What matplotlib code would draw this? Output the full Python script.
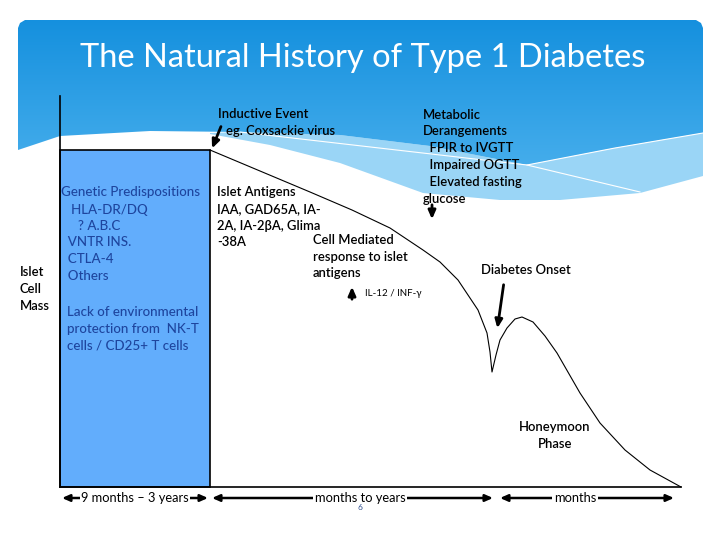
import numpy as np
import matplotlib.pyplot as plt
from matplotlib.colors import LinearSegmentedColormap
from matplotlib.patches import Polygon, Rectangle

plt.rcParams['font.family'] = ['Lato', 'DejaVu Sans']

# islet cell mass curve (pixel coords of the slide, y grows downward)
curve_x = [210, 260, 310, 352, 390, 423, 440, 458, 478, 487, 490, 492,
           496, 500, 507, 515, 522, 533, 545, 557, 580, 600, 625, 650, 681]
curve_y = [150, 171, 192, 210, 228, 250, 262, 280, 310, 333, 352, 372,
           355, 340, 328, 319, 317, 322, 336, 353, 393, 423, 450, 470, 487]

# blue block: genetic predisposition phase
block_x = [60, 210]
block_top = 150
base_y = 487

# header wave shapes
dark_x = [703, 615, 527, 430, 340, 240, 150, 60, 18]
dark_y = [133, 148, 165, 146, 135, 132, 131, 136, 150]
band_lo_x = [210, 270, 340, 423, 500, 560, 640, 703]
band_lo_y = [134, 145, 163, 193, 200, 200, 193, 176]

title = "The Natural History of Type 1 Diabetes"

genetic_lines = ["Genetic Predispositions", "   HLA-DR/DQ", "     ? A.B.C",
                 "  VNTR INS.", "  CTLA-4", "  Others"]
genetic_y = [192, 210, 226, 242, 259, 276]
env_lines = ["Lack of environmental", "protection from  NK-T", "cells / CD25+ T cells"]
env_y = [312, 329, 345]
islet_lines = ["Islet", "Cell", "Mass"]
islet_y = [272, 289, 306]
antigen_lines = ["Islet Antigens", "IAA, GAD65A, IA-", "2A, IA-2βA, Glima", "-38A"]
antigen_y = [192, 209, 226, 242]
cell_lines = ["Cell Mediated", "response to islet", "antigens"]
cell_y = [240, 257, 273]
metab_lines = ["Metabolic", "Derangements", "  FPIR to IVGTT", "  Impaired OGTT",
               "  Elevated fasting", "glucose"]
metab_y = [115, 131, 148, 165, 182, 199]

spans = [(62, 208, "9 months – 3 years"), (212, 493, "months to years"),
         (500, 674, "months")]
span_labels_x = [135, 360, 575]

fig = plt.figure(figsize=(7.2, 5.4), dpi=100)
ax = fig.add_axes([0, 0, 1, 1])
ax.set_xlim(0, 720)
ax.set_ylim(540, 0)
ax.axis('off')

# header: light band then dark gradient area
band = list(zip(dark_x[:6], dark_y[:6])) + [(210, 133)] + list(zip(band_lo_x, band_lo_y))
ax.add_patch(Polygon(band, closed=True, facecolor='#9ad5f6', edgecolor='none'))

dark_pts = [(18, 150), (18, 28), (20, 23), (25, 20), (696, 20), (701, 23), (703, 28)]
dark_pts += list(zip(dark_x, dark_y))
dark_poly = Polygon(dark_pts, closed=True, facecolor='none', edgecolor='none')
ax.add_patch(dark_poly)
cmap = LinearSegmentedColormap.from_list('hdr', ['#1590de', '#46aeec'])
grad = np.linspace(0, 1, 256).reshape(-1, 1)
im = ax.imshow(grad, cmap=cmap, extent=[18, 703, 170, 20], aspect='auto', zorder=1)
im.set_clip_path(dark_poly)
ax.set_xlim(0, 720)
ax.set_ylim(540, 0)

ax.plot([240, 527, 640], [132, 165, 192], color='white', lw=0.8, zorder=2)
ax.plot([527, 615, 703], [165, 148, 133], color='white', lw=0.8, zorder=2)

ax.text(363, 58, title, color='white', fontsize=23.5,
        ha='center', va='center', zorder=3)

# axes and block
ax.add_patch(Rectangle((block_x[0], block_top), block_x[1] - block_x[0], base_y - block_top,
                       facecolor='#62adfc', edgecolor='black', lw=1.2, zorder=3))
ax.plot([60, 60], [96, base_y], color='black', lw=1.2, zorder=4)
ax.plot([60, 681], [base_y, base_y], color='black', lw=1.2, zorder=4)
ax.plot(curve_x, curve_y, color='black', lw=0.8, zorder=4)


def rows(x, ys, lines, **kw):
    for yy, s in zip(ys, lines):
        ax.text(x, yy, s, va='center', ha='left', zorder=5, **kw)


body = dict(fontsize=9.4, color='black', fontweight='semibold')
blue = dict(fontsize=9.6, color='#1e459e', fontweight='medium')
rows(61, genetic_y, genetic_lines, **blue)
rows(67, env_y, env_lines, **blue)
rows(20, islet_y, islet_lines, **body)
rows(217, antigen_y, antigen_lines, **body)
rows(313, cell_y, cell_lines, **body)
rows(423, metab_y, metab_lines, **body)
ax.text(218, 114, "Inductive Event", va='center', zorder=5, **body)
ax.text(226, 131, "eg. Coxsackie virus", va='center', zorder=5, **body)
ax.text(365, 294, "IL-12 / INF-γ", va='center', fontsize=7, zorder=5)
ax.text(481, 270, "Diabetes Onset", va='center', zorder=5, **body)
ax.text(555, 427, "Honeymoon", ha='center', va='center', zorder=5, **body)
ax.text(555, 444, "Phase", ha='center', va='center', zorder=5, **body)

# arrows
arr = dict(arrowstyle='-|>,head_length=0.5,head_width=0.22', color='black', lw=2)
ax.annotate('', xy=(211, 151), xytext=(222, 124), arrowprops=arr, zorder=6)
ax.annotate('', xy=(432, 222), xytext=(432, 202), arrowprops=arr, zorder=6)
ax.annotate('', xy=(352, 284), xytext=(352, 302), arrowprops=arr, zorder=6)
ax.annotate('', xy=(497, 331), xytext=(504, 282), arrowprops=arr, zorder=6)

# time spans along the bottom
for (x0, x1, label), lx in zip(spans, span_labels_x):
    ax.annotate('', xy=(x1, 498), xytext=(x0, 498),
                arrowprops=dict(arrowstyle='<|-|>,head_length=0.45,head_width=0.2',
                                color='black', lw=1.8, shrinkA=0, shrinkB=0), zorder=5)
    ax.text(lx, 498, label, ha='center', va='center', fontsize=9.3, zorder=6,
            bbox=dict(facecolor='white', edgecolor='none', pad=1))

ax.text(360, 507, "6", ha='center', va='center', fontsize=6, color='#2f4f8f', zorder=6)

plt.savefig("out.png", dpi=100)
